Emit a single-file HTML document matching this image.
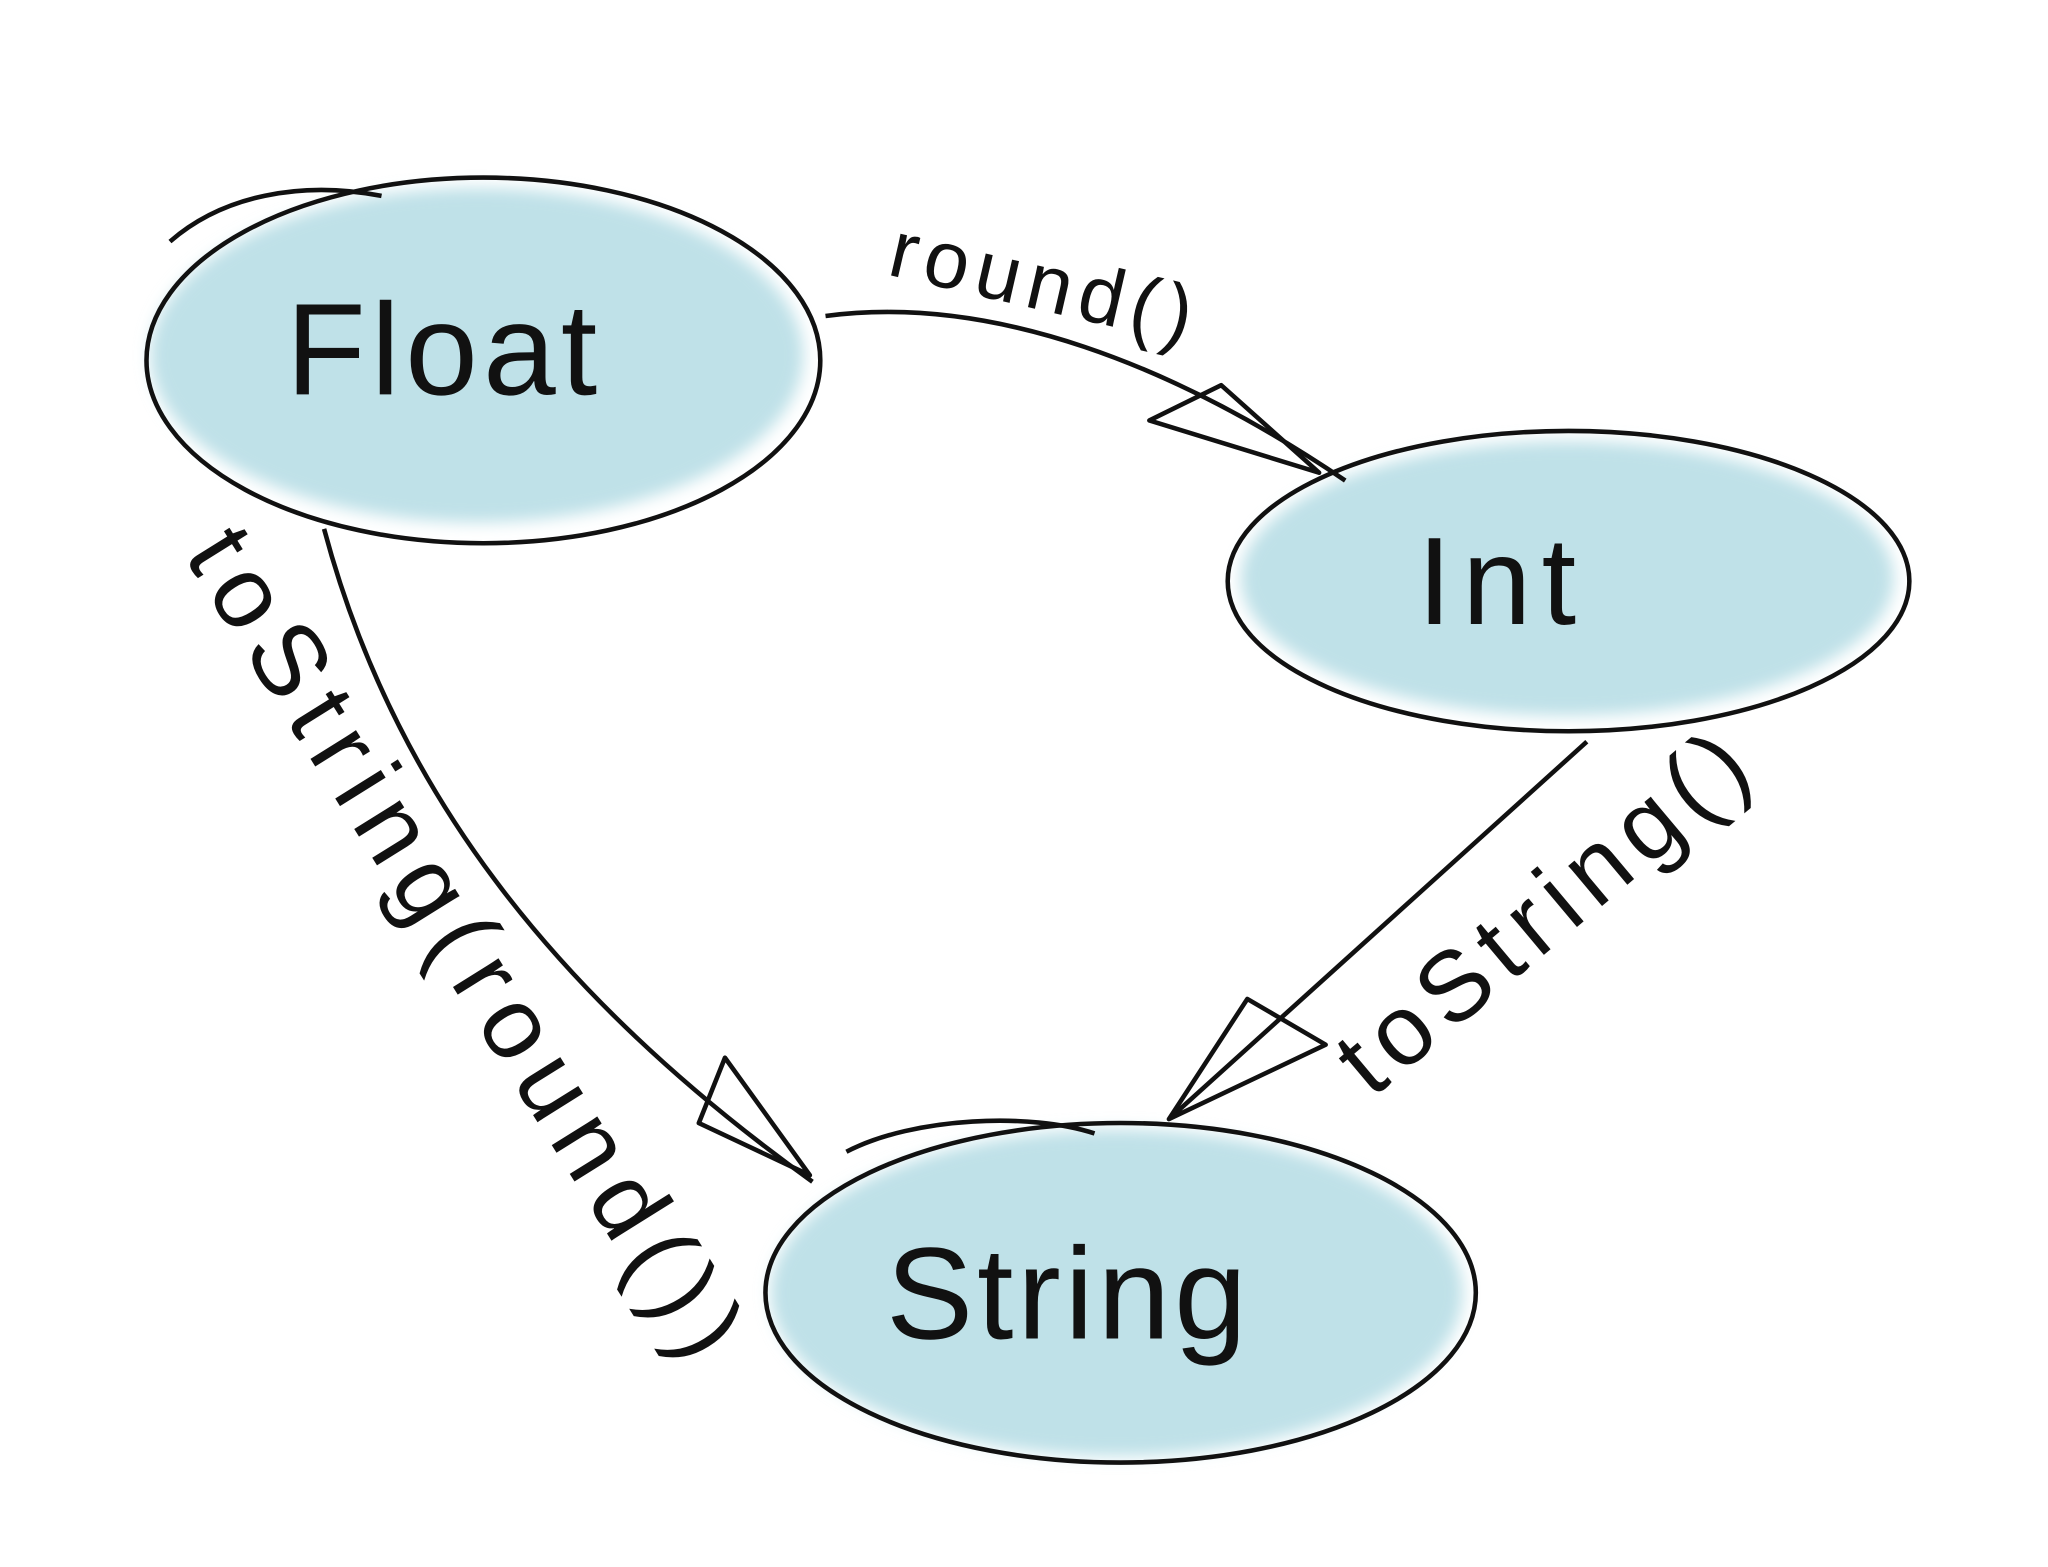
<!DOCTYPE html>
<html><head><meta charset="utf-8">
<style>
html,body{margin:0;padding:0;background:#fff;}
svg{display:block;}
text{font-family:"Liberation Sans",sans-serif;fill:#111;}
</style></head>
<body>
<svg width="2048" height="1567" viewBox="0 0 1568 1200" xmlns="http://www.w3.org/2000/svg">
<defs>
<filter id="soft" x="-20%" y="-20%" width="140%" height="140%"><feGaussianBlur stdDeviation="6"/></filter>
</defs>
<g>
<ellipse cx="365" cy="272" rx="250" ry="128" fill="#bfe1e8" filter="url(#soft)"/>
<ellipse cx="370" cy="276" rx="258" ry="140" fill="none" stroke="#111" stroke-width="3.5"/>
<path d="M130 185 C170 150 230 138 292 150" fill="none" stroke="#111" stroke-width="3.5"/>
<text x="340" y="302" font-size="100" text-anchor="middle" letter-spacing="4">Float</text>
</g>
<g>
<ellipse cx="1200" cy="443" rx="250" ry="105" fill="#bfe1e8" filter="url(#soft)"/>
<ellipse cx="1201" cy="445" rx="261" ry="115" fill="none" stroke="#111" stroke-width="3.5"/>
<text x="1150" y="478" font-size="95" text-anchor="middle" letter-spacing="8">Int</text>
</g>
<g>
<ellipse cx="855" cy="990" rx="265" ry="125" fill="#bfe1e8" filter="url(#soft)"/>
<ellipse cx="858" cy="990" rx="272" ry="130" fill="none" stroke="#111" stroke-width="3.5"/>
<path d="M648 882 C700 855 790 852 838 868" fill="none" stroke="#111" stroke-width="3.5"/>
<text x="818" y="1025" font-size="100" text-anchor="middle" letter-spacing="3">String</text>
</g>
<g fill="none" stroke="#111" stroke-width="3.5">
<path d="M632 242 C760 225 900 280 1030 368"/>
<path d="M880 322 L935 295 L1010 362 Z" stroke-linejoin="round"/>
</g>
<g fill="none" stroke="#111" stroke-width="3.5">
<path d="M248 405 C300 600 420 760 622 905"/>
<path d="M535 860 L555 810 L620 900 Z" stroke-linejoin="round"/>
</g>
<g fill="none" stroke="#111" stroke-width="3.5">
<path d="M1215 568 L895 857"/>
<path d="M955 765 L1015 800 L895 857 Z" stroke-linejoin="round"/>
</g>
<text font-size="62" letter-spacing="6" transform="translate(678 210) rotate(13)">round()</text>
<text font-size="78" letter-spacing="10" transform="translate(140 425) rotate(58)">toString(round())</text>
<text font-size="76" letter-spacing="8" transform="translate(1050 842) rotate(-40)">toString()</text>
</svg>
</body></html>
